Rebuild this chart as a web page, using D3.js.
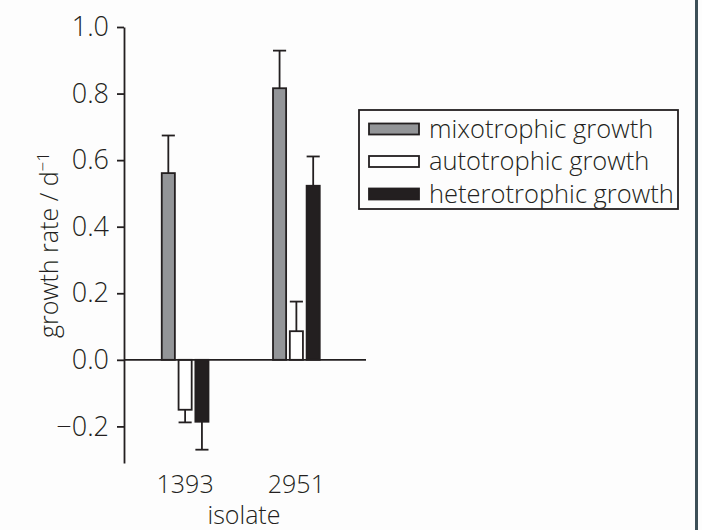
<!DOCTYPE html>
<html>
<head>
<meta charset="utf-8">
<script src="https://cdn.jsdelivr.net/npm/d3@7"></script>
<style>
  body { margin: 0; background: #fdfdfd; }
  svg { display: block; font-family: "Open Sans", Lato, sans-serif; font-weight: 300; }
  .axis path, .axis line { stroke: #231f20; stroke-width: 1.8; }
  .axis text { fill: #231f20; font-size: 27px; font-family: "Open Sans", sans-serif; font-weight: 300; }
</style>
</head>
<body>
<svg id="chart" width="702" height="530"></svg>
<script>
// data
const isolates = ['1393', '2951'];
const series = ['mixotrophic growth', 'autotrophic growth', 'heterotrophic growth'];
const mixotrophic = [0.561, 0.816];
const autotrophic = [-0.150, 0.086];
const heterotrophic = [-0.186, 0.523];
const mixotrophicErr = [0.113, 0.113];
const autotrophicErr = [0.038, 0.089];
const heterotrophicErr = [0.084, 0.088];
const yTicks = [-0.2, 0.0, 0.2, 0.4, 0.6, 0.8, 1.0];

const fills = ['#939598', '#ffffff', '#231f20'];
const ink = '#231f20';

const values = [mixotrophic, autotrophic, heterotrophic];
const errors = [mixotrophicErr, autotrophicErr, heterotrophicErr];

let bars = [];
isolates.forEach((iso, i) => {
    series.forEach((s, j) => {
        bars.push({ isolate: iso, series: s, value: values[j][i], err: errors[j][i], fill: fills[j] });
    });
});

const svg = d3.select('#chart');

const y = d3.scaleLinear().domain([-0.31, 1.0]).range([463, 27]);

const x = d3.scaleBand()
    .domain(isolates)
    .range([129.5, 352])
    .paddingInner(0.58)
    .paddingOuter(0.29);

const xSub = d3.scaleBand()
    .domain(series)
    .range([0, x.bandwidth()])
    .paddingInner(0.22);

// page border on the right
svg.append('rect')
    .attr('x', 695).attr('y', 0)
    .attr('width', 3).attr('height', 530)
    .attr('fill', '#3d5058');

// y axis
svg.append('g')
    .classed('axis', true)
    .attr('transform', 'translate(124,0)')
    .call(d3.axisLeft(y)
        .tickValues(yTicks)
        .tickSize(7)
        .tickSizeOuter(0)
        .tickPadding(8)
        .tickFormat(d3.format('.1f')));

// bars
let g = svg.append('g');

g.selectAll('rect.bar')
    .data(bars)
    .join('rect')
    .classed('bar', true)
    .attr('x', d => x(d.isolate) + xSub(d.series))
    .attr('width', xSub.bandwidth())
    .attr('y', d => y(Math.max(0, d.value)))
    .attr('height', d => Math.abs(y(d.value) - y(0)))
    .attr('fill', d => d.fill)
    .attr('stroke', ink)
    .attr('stroke-width', 1.8);

// error bars, drawn away from zero only
let eb = g.selectAll('g.err')
    .data(bars)
    .join('g')
    .classed('err', true);

eb.append('line')
    .attr('x1', d => x(d.isolate) + xSub(d.series) + xSub.bandwidth() / 2)
    .attr('x2', d => x(d.isolate) + xSub(d.series) + xSub.bandwidth() / 2)
    .attr('y1', d => y(d.value))
    .attr('y2', d => y(d.value + Math.sign(d.value) * d.err))
    .attr('stroke', ink)
    .attr('stroke-width', 1.8);

eb.append('line')
    .attr('x1', d => x(d.isolate) + xSub(d.series))
    .attr('x2', d => x(d.isolate) + xSub(d.series) + xSub.bandwidth())
    .attr('y1', d => y(d.value + Math.sign(d.value) * d.err))
    .attr('y2', d => y(d.value + Math.sign(d.value) * d.err))
    .attr('stroke', ink)
    .attr('stroke-width', 1.8);

// zero line
svg.append('line')
    .attr('x1', 124).attr('x2', 366)
    .attr('y1', y(0)).attr('y2', y(0))
    .attr('stroke', ink)
    .attr('stroke-width', 1.8);

// category labels
svg.selectAll('text.cat')
    .data(isolates)
    .join('text')
    .classed('cat', true)
    .attr('x', d => x(d) + x.bandwidth() / 2)
    .attr('y', 493)
    .attr('text-anchor', 'middle')
    .attr('font-size', 25)
    .attr('fill', ink)
    .text(d => d);

svg.append('text')
    .attr('x', 244)
    .attr('y', 524)
    .attr('text-anchor', 'middle')
    .attr('font-size', 25)
    .attr('fill', ink)
    .text('isolate');

// y axis title
let yt = svg.append('text')
    .attr('transform', 'translate(58,' + ((y(1.0) + y(-0.31)) / 2) + ') rotate(-90)')
    .attr('text-anchor', 'middle')
    .attr('font-size', 25)
    .attr('fill', ink);
yt.append('tspan').text('growth rate / d');
yt.append('tspan').attr('dy', -9).attr('font-size', 17).text('\u2212\u0031');

// legend
let legend = svg.append('g').attr('transform', 'translate(359,110)');

legend.append('rect')
    .attr('width', 319).attr('height', 99)
    .attr('fill', 'none')
    .attr('stroke', ink)
    .attr('stroke-width', 1.8);

let items = legend.selectAll('g.item')
    .data(series)
    .join('g')
    .classed('item', true)
    .attr('transform', (d, i) => 'translate(10,' + (19 + i * 32.5) + ')');

items.append('rect')
    .attr('y', -5.5)
    .attr('width', 50).attr('height', 11)
    .attr('fill', (d, i) => fills[i])
    .attr('stroke', ink)
    .attr('stroke-width', 1.8);

items.append('text')
    .attr('x', 60)
    .attr('y', 8.5)
    .attr('font-size', 25.5)
    .attr('fill', ink)
    .text(d => d);
</script>
</body>
</html>
